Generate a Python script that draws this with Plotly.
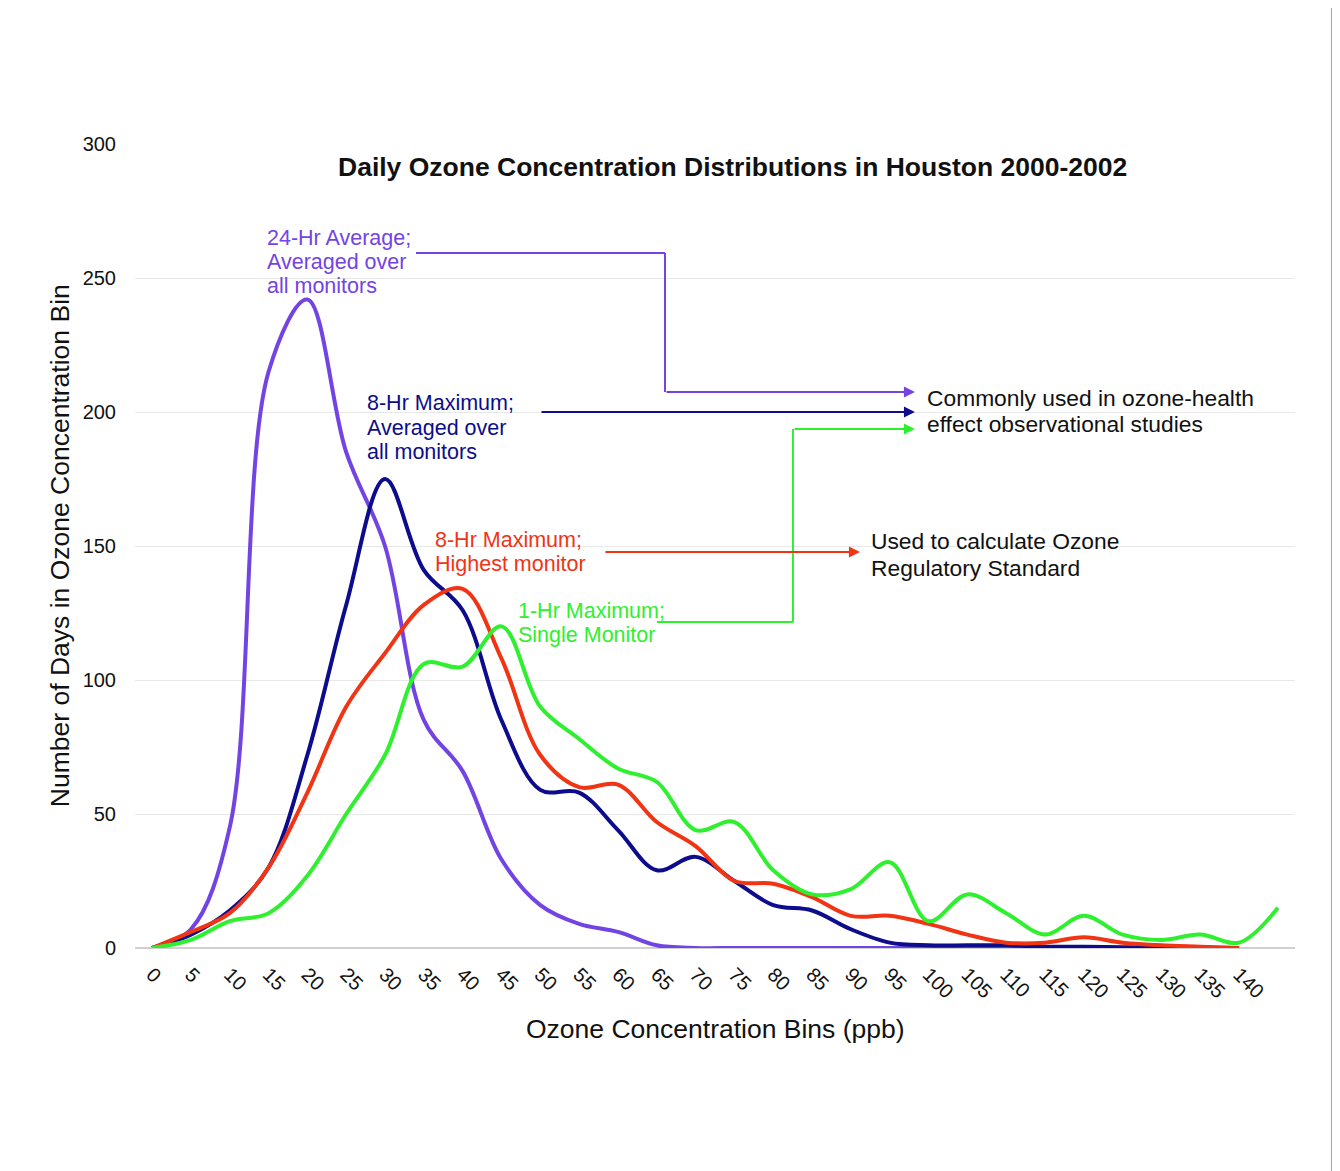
import plotly.graph_objects as go

bins = list(range(0, 150, 5))  # 0..145
tick_labels = [str(v) for v in range(0, 145, 5)]

avg24_all = [0, 7, 45, 215, 242, 185, 150, 85, 66, 33, 16, 9, 6, 1, 0, 0, 0, 0, 0, 0, 0, 0, 0, 0, 0, 0, 0, 0, 0]
max8_avg = [0, 5, 14, 30, 72, 128, 175, 141, 126, 85, 59, 58, 44, 29, 34, 25, 16, 14, 7, 2, 1, 1, 1, 0.5, 0.5, 0.3, 0.2, 0.1, 0]
max8_high = [0, 6, 13, 30, 58, 90, 110, 128, 134, 108, 72, 60, 61, 47, 38, 25, 24, 19, 12, 12, 9, 5, 2, 2, 4, 2, 1, 0.5, 0]
max1_single = [0, 3, 10, 13, 27, 50, 72, 106, 105, 120, 90, 78, 67, 62, 44, 47, 29, 20, 22, 32, 10, 20, 13, 5, 12, 5, 3, 5, 2, 15]

C_PURPLE = "#7344e4"
C_NAVY = "#0c0c8c"
C_RED = "#f03414"
C_GREEN = "#2ef02e"

FONT = "Liberation Sans, Arial, sans-serif"

# layout helpers: page pixel -> data coordinates (for annotation placement only)
def px_x(px):
    return (px - 152) / 7.766

def px_y(py):
    return (948 - py) / 2.68

fig = go.Figure()
series = [
    ("24-Hr Average", avg24_all, C_PURPLE),
    ("8-Hr Maximum; Averaged", max8_avg, C_NAVY),
    ("8-Hr Maximum; Highest", max8_high, C_RED),
    ("1-Hr Maximum; Single", max1_single, C_GREEN),
]
for name, vals, col in series:
    fig.add_trace(go.Scatter(
        x=bins[:len(vals)], y=vals, name=name, mode="lines",
        line=dict(color=col, width=4, shape="spline", smoothing=1.0),
        showlegend=False, hoverinfo="x+y",
    ))

shapes = [
    # right-hand page shadow
    dict(type="rect", xref="paper", yref="paper", x0=1.0310, x1=1.05, y0=-0.4, y1=1.3,
         fillcolor="#a8aaa8", line=dict(width=0), layer="below"),
]

def seg(x0, y0, x1, y1, col):
    return dict(type="line", xref="x", yref="y", x0=x0, y0=y0, x1=x1, y1=y1,
                line=dict(color=col, width=2), layer="above")

shapes += [
    seg(px_x(416), px_y(253), px_x(665), px_y(253), C_PURPLE),
    seg(px_x(665), px_y(253), px_x(665), px_y(392), C_PURPLE),
    seg(px_x(657), px_y(622), px_x(793), px_y(622), C_GREEN),
    seg(px_x(793), px_y(622), px_x(793), px_y(429), C_GREEN),
]

annotations = []

def arrow(x0, x1, y, col):
    annotations.append(dict(x=px_x(x1), y=px_y(y), ax=px_x(x0), ay=px_y(y), xref="x", yref="y",
                            axref="x", ayref="y", text="", showarrow=True, arrowhead=2,
                            arrowsize=1.1, arrowwidth=2, arrowcolor=col))

arrow(665, 915, 392, C_PURPLE)
arrow(540, 915, 412, C_NAVY)
arrow(604, 860, 552, C_RED)
arrow(793, 915, 429, C_GREEN)

def label(px, pys, lines, col, size=21.5):
    for py, t in zip(pys, lines):
        annotations.append(dict(x=px_x(px), y=px_y(py), xref="x", yref="y", text=t, showarrow=False,
                                xanchor="left", yanchor="middle", align="left",
                                font=dict(family=FONT, size=size, color=col)))

label(265, [238, 262, 286], ["24-Hr Average;", "Averaged over", "all monitors"], C_PURPLE)
label(365, [403, 428, 452], ["8-Hr Maximum;", "Averaged over", "all monitors"], C_NAVY)
label(433, [540, 564], ["8-Hr Maximum;", "Highest monitor"], C_RED)
label(516, [611, 635], ["1-Hr Maximum;", "Single Monitor"], C_GREEN)
label(925, [398, 424], ["Commonly used in ozone-health", "effect observational studies"], "#111111", 22.8)
label(869, [541, 568], ["Used to calculate Ozone", "Regulatory Standard"], "#111111", 22.8)

annotations.append(dict(x=0.5, y=-0.1007, xref="paper", yref="paper", text="Ozone Concentration Bins (ppb)",
                        showarrow=False, xanchor="center", yanchor="middle",
                        font=dict(family=FONT, size=26.5, color="#111111")))
annotations.append(dict(x=-0.0647, y=0.501, xref="paper", yref="paper",
                        text="Number of Days in Ozone Concentration Bin", textangle=-90,
                        showarrow=False, xanchor="center", yanchor="middle",
                        font=dict(family=FONT, size=26.5, color="#111111")))
annotations.append(dict(x=0.5155, y=0.9716, xref="paper", yref="paper",
                        text="<b>Daily Ozone Concentration Distributions in Houston 2000-2002</b>",
                        showarrow=False, xanchor="center", yanchor="middle",
                        font=dict(family=FONT, size=26.5, color="#111111")))

fig.update_layout(
    width=1332, height=1163,
    margin=dict(l=127, r=45, t=136, b=223),
    paper_bgcolor="white",
    plot_bgcolor="rgba(0,0,0,0)",
    shapes=shapes,
    annotations=annotations,
    font=dict(family=FONT, color="#111111"),
    xaxis=dict(
        range=[-2.2, 147.2], tickmode="array", tickvals=list(range(0, 145, 5)), ticktext=tick_labels,
        tickangle=45, showgrid=False, zeroline=False, showline=False, ticks="",
        tickfont=dict(family=FONT, size=20, color="#111111"), ticklabelstandoff=10,
    ),
    yaxis=dict(
        range=[0, 300], tickvals=list(range(0, 301, 50)), showgrid=True, gridcolor="#e8e8e8",
        gridwidth=1, zeroline=True, zerolinecolor="#d0d0d0", zerolinewidth=1.5, showline=False,
        ticks="", tickfont=dict(family=FONT, size=20, color="#111111"), ticklabelstandoff=18,
    ),
)

fig.write_html("out.html")
